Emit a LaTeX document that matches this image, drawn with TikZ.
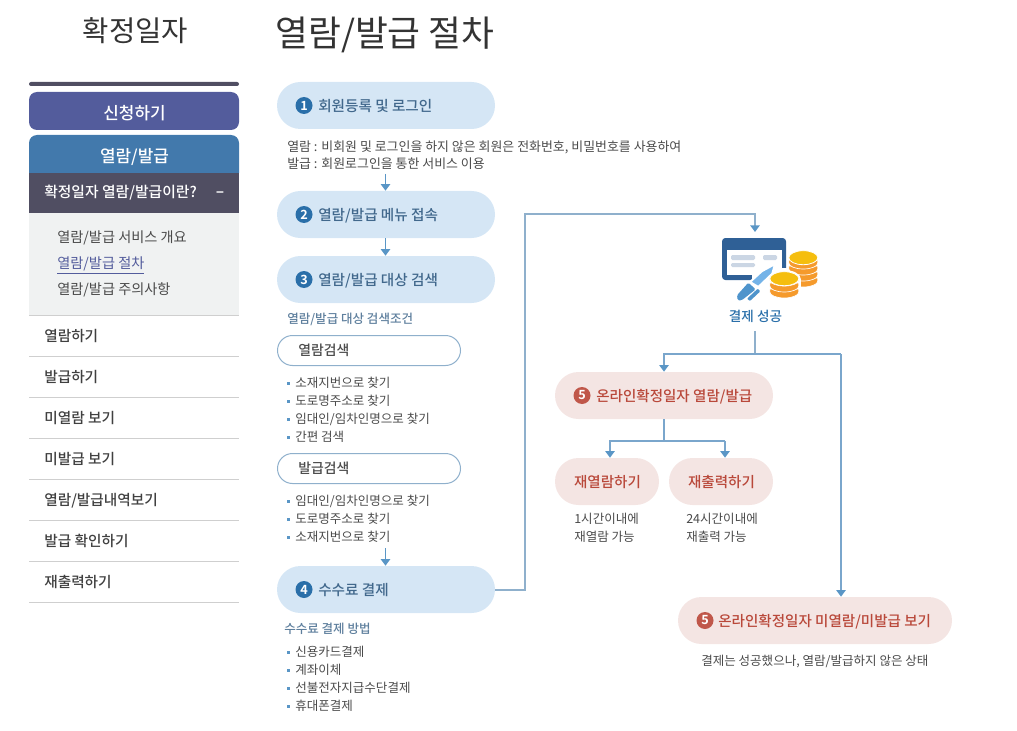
\documentclass[tikz,border=0pt]{standalone}
\usepackage{fontspec}
\setmainfont{Noto Sans CJK KR}[BoldFont={Noto Sans CJK KR Medium}]
\newfontfamily\krheavy{Noto Sans CJK KR Bold}
\usetikzlibrary{arrows.meta,shapes.geometric}
\definecolor{pillblue}{HTML}{D5E6F5}
\definecolor{pillred}{HTML}{F4E5E3}
\definecolor{numblue}{HTML}{2A6FA9}
\definecolor{numred}{HTML}{C0574A}
\definecolor{txtblue}{HTML}{41688C}
\definecolor{txtred}{HTML}{B9483A}
\definecolor{grytxt}{HTML}{4A4A4A}
\definecolor{linec}{HTML}{8FB0CC}
\definecolor{linef}{HTML}{7AA6CC}
\definecolor{tipc}{HTML}{5A96C6}
\definecolor{navy}{HTML}{504E62}
\definecolor{sbpurple}{HTML}{535C9C}
\definecolor{sbblue}{HTML}{4279AC}
\definecolor{sbgray}{HTML}{F0F2F2}
\definecolor{sbline}{HTML}{CFCFCF}
\definecolor{cardb}{HTML}{2F6096}
\definecolor{barg}{HTML}{CBD6E4}
\definecolor{penl}{HTML}{74B3E8}
\definecolor{pend}{HTML}{4E94CC}
\definecolor{coiny}{HTML}{F5BE0E}
\definecolor{coino}{HTML}{F59A2C}
\tikzset{
 x=0.75pt,y=-0.75pt,
 pillb/.style={fill=pillblue,rounded corners=17.6pt,minimum width=163.5pt,minimum height=35.25pt,inner sep=0pt},
 pillr/.style={fill=pillred,rounded corners=17.6pt,minimum height=35.25pt,inner sep=0pt},
 pillo/.style={draw=linec,fill=white,line width=0.75pt,rounded corners=11.25pt,minimum width=137.25pt,minimum height=22.5pt,inner sep=0pt},
 numb/.style={circle,fill=numblue,text=white,inner sep=0pt,minimum size=12.75pt,font=\krheavy\fontsize{9.5}{9.5}\selectfont},
 numr/.style={circle,fill=numred,text=white,inner sep=0pt,minimum size=12.75pt,font=\krheavy\fontsize{9.5}{9.5}\selectfont},
 lab/.style={anchor=base west,inner sep=0pt,font=\fontsize{10.95}{12}\selectfont\bfseries,text=txtblue},
 labr/.style={anchor=base west,inner sep=0pt,font=\fontsize{10.9}{12}\selectfont\bfseries,text=txtred},
 body/.style={anchor=base west,inner sep=0pt,font=\fontsize{9.4}{12}\selectfont,text=grytxt},
 bodyw/.style={anchor=base west,inner sep=0pt,font=\fontsize{9.7}{12}\selectfont,text=grytxt},
 sub/.style={anchor=base west,inner sep=0pt,font=\fontsize{9.4}{12}\selectfont\bfseries,text=txtblue!85},
 side/.style={anchor=base west,inner sep=0pt,font=\fontsize{11}{12}\selectfont\bfseries,text=black!75},
 sideb/.style={anchor=base west,inner sep=0pt,font=\fontsize{10.65}{12}\selectfont,text=grytxt},
 wht/.style={anchor=base,inner sep=0pt,font=\fontsize{12.7}{12}\selectfont\bfseries,text=white},
 oltxt/.style={anchor=base west,inner sep=0pt,font=\fontsize{10.4}{12}\selectfont\bfseries,text=black!70},
 blt/.style={fill=tipc,minimum size=2.25pt,inner sep=0pt},
 conn/.style={draw=linec,line width=1.2pt},
 connf/.style={draw=linef,line width=1.2pt},
 arrtip/.style={-{Triangle[color=tipc,length=5pt,width=7pt]}},
 arr/.style={conn,arrtip},
 arrf/.style={connf,arrtip},
 arrs/.style={draw=tipc,line width=1.2pt,arrtip},
 band/.style={fill=coino,draw=white,line width=0.5pt},
 cointop/.style={fill=coiny,draw=white,line width=0.6pt},
}
\newcommand{\bitem}[3]{\node[blt] (#1b) at (288,#3-4) {}; \node[body] (#1) at (295,#3) {#2};}
\begin{document}
\begin{tikzpicture}
\useasboundingbox (0,0) rectangle (1017,731);
% titles
\node[anchor=base,inner sep=0pt,font=\fontsize{21.5}{24}\selectfont,text=black!80] (t1) at (135.5,41.5) {확정일자};
\node[anchor=base west,inner sep=0pt,font=\fontsize{26.8}{30}\selectfont,text=black!80] (t2) at (275,46.5) {열람/발급 절차};
% sidebar
\fill[navy,rounded corners=1.5pt] (29,82) rectangle (239,86);
\fill[sbpurple,rounded corners=6pt] (29,92) rectangle (239,130);
\fill[sbblue,rounded corners=6pt] (29,173) [sharp corners] -- (29,160) [rounded corners=6pt] -- (29,135) -- (239,135) -- (239,160) [sharp corners] -- (239,173) -- cycle;
\fill[navy] (29,173) rectangle (239,213);
\fill[sbgray] (29,213) rectangle (239,315);
\foreach \yy in {315,356,397,438,479,520,561,602} \draw[sbline,line width=0.75pt] (29,\yy) -- (239,\yy);
\node[wht] (s1) at (134.5,120) {신청하기};
\node[wht] (s2) at (134.5,163) {열람/발급};
\node[anchor=base west,inner sep=0pt,font=\fontsize{11.1}{12}\selectfont\bfseries,text=white] (s3) at (44,197) {확정일자 열람/발급이란?};
\node[anchor=base,inner sep=0pt,font=\krheavy\fontsize{10}{12}\selectfont,text=white] (s3m) at (220,197) {−};
\node[sideb] (s4) at (57,243) {열람/발급 서비스 개요};
\node[sideb,text=sbpurple] (s5) at (57,268.5) {\underline{열람/발급 절차}};
\node[sideb] (s6) at (57,294) {열람/발급 주의사항};
\node[side] (m1) at (44,341.5) {열람하기};
\node[side] (m2) at (44,382.5) {발급하기};
\node[side] (m3) at (44,423.5) {미열람 보기};
\node[side] (m4) at (44,464.5) {미발급 보기};
\node[side] (m5) at (44,505.5) {열람/발급내역보기};
\node[side] (m6) at (44,546.5) {발급 확인하기};
\node[side] (m7) at (44,587.5) {재출력하기};
% left pills
\node[pillb] (p1) at (386,105.5) {};
\node[pillb] (p2) at (386,214.5) {};
\node[pillb] (p3) at (386,279.5) {};
\node[pillb] (p4) at (386,589.5) {};
\node[numb] (n1) at (304,105.5) {1};
\node[numb] (n2) at (304,214.5) {2};
\node[numb] (n3) at (304,279.5) {3};
\node[numb] (n4) at (304,589.5) {4};
\node[lab] (l1) at (318,111.2) {회원등록 및 로그인};
\node[lab] (l2) at (318,220.2) {열람/발급 메뉴 접속};
\node[lab] (l3) at (318,285.2) {열람/발급 대상 검색};
\node[lab] (l4) at (318,595.2) {수수료 결제};
\node[bodyw] (d1) at (287,151.5) {열람 : 비회원 및 로그인을 하지 않은 회원은 전화번호, 비밀번호를 사용하여};
\node[bodyw] (d2) at (287,169) {발급 : 회원로그인을 통한 서비스 이용};
\node[sub] (d3) at (287,323) {열람/발급 대상 검색조건};
\node[pillo] (o1) at (369,350.5) {};
\node[pillo] (o2) at (369,468.5) {};
\node[oltxt] (o1t) at (298,355.5) {열람검색};
\node[oltxt] (o2t) at (298,473.5) {발급검색};
\bitem{a1}{소재지번으로 찾기}{387}
\bitem{a2}{도로명주소로 찾기}{405}
\bitem{a3}{임대인/임차인명으로 찾기}{423}
\bitem{a4}{간편 검색}{441}
\bitem{b1}{임대인/임차인명으로 찾기}{505}
\bitem{b2}{도로명주소로 찾기}{523}
\bitem{b3}{소재지번으로 찾기}{541}
\node[sub] (d4) at (284,633) {수수료 결제 방법};
\bitem{c1}{신용카드결제}{656}
\bitem{c2}{계좌이체}{674}
\bitem{c3}{선불전자지급수단결제}{692}
\bitem{c4}{휴대폰결제}{710}
% left arrows
\coordinate (fa1) at (385.5,174);
\coordinate (fa3) at (385.5,548);
\draw[arrs] (fa1) -- (fa1 |- p2.north);
\draw[arrs] (p2.south -| fa1) -- (p3.north -| fa1);
\draw[arrs] (fa3) -- (fa3 |- p4.north);
% right pills
\node[pillr,minimum width=163.5pt] (p5) at (664,395.5) {};
\node[pillr,minimum width=78pt] (p6) at (607,481.5) {};
\node[pillr,minimum width=78pt] (p7) at (721,481.5) {};
\node[pillr,minimum width=205.5pt] (p8) at (815,620.5) {};
\node[numr] (n5) at (582,395.5) {5};
\node[numr] (n6) at (705,620.5) {5};
\node[labr] (l5) at (596,401.2) {온라인확정일자 열람/발급};
\node[labr,anchor=base] (l6) at (607.5,487.2) {재열람하기};
\node[labr,anchor=base] (l7) at (721.5,487.2) {재출력하기};
\node[labr] (l8) at (718,626.2) {온라인확정일자 미열람/미발급 보기};
\node[body] (e1) at (574,523) {1시간이내에};
\node[body] (e2) at (574,541) {재열람 가능};
\node[body] (e3) at (686,523) {24시간이내에};
\node[body] (e4) at (686,541) {재출력 가능};
\node[body] (e5) at (701,665) {결제는 성공했으나, 열람/발급하지 않은 상태};
% icon: card
\fill[cardb,rounded corners=2.5pt] (722,238) rectangle (786,280);
\fill[white] (727,250) rectangle (782,275);
\fill[barg,rounded corners=1pt] (731,255) rectangle (755,260);
\fill[barg,rounded corners=1pt] (763,255) rectangle (777,260);
\fill[barg,rounded corners=1pt] (731,263) rectangle (755,267);
% icon: white gap round the pen and coins
\fill[white] (752,275) -- (790,270) -- (790,285) -- (770,300) -- (752,300) -- cycle;
\fill[white] (782,268) rectangle (790,282);
% icon: pen
\draw[white,line width=1.5pt,fill=penl,line join=round] (775,264) -- (772.3,273.7) -- (758.3,287) -- (750,282) -- (761.7,271.3) -- cycle;
\fill[pend,rounded corners=1pt] (748.3,282.7) -- (755.7,289.3) -- (741.7,300.3) -- (737.7,300.3) -- (737,295.3) -- cycle;
\fill[pend,rounded corners=0.6pt] (757.7,288.7) -- (760.3,291.3) -- (750,301) -- (747,298.7) -- cycle;
% icon: right stack
\foreach \cy in {281,275,269,263} {
 \path[band] (788.8,\cy-3) -- (788.8,\cy) arc[start angle=180,end angle=0,x radius=14.5,y radius=6] -- (817.8,\cy-3) -- cycle;
}
\path[cointop] (803.3,257.7) ellipse[x radius=14.5,y radius=7];
% icon: left stack
\fill[white] (784.3,279) ellipse[x radius=16.5,y radius=9];
\fill[white] (767.8,279) rectangle (800.8,292);
\fill[white] (784.3,292) ellipse[x radius=16.5,y radius=7];
\foreach \cy in {292,286,280} {
 \path[band] (769.8,\cy-3) -- (769.8,\cy) arc[start angle=180,end angle=0,x radius=14.5,y radius=6] -- (798.8,\cy-3) -- cycle;
}
\path[cointop] (784.3,278.7) ellipse[x radius=14.5,y radius=7];
\node[anchor=base,inner sep=0pt,font=\fontsize{10.2}{12}\selectfont\bfseries,text=numblue] (ok) at (755.5,321) {결제 성공};
% connectors
\coordinate (j1) at (525,590);
\coordinate (j2) at (525,214);
\coordinate (j3) at (755,214);
\coordinate (j4) at (755,232);
\coordinate (j5) at (755,331);
\coordinate (j6) at (755,354);
\coordinate (j7) at (664,354);
\coordinate (j8) at (841,354);
\coordinate (j9) at (664,441);
\coordinate (j10) at (610,441);
\coordinate (j11) at (725,441);
\draw[arr] (p4.east |- j1) -- (j1) -- (j2) -- (j3) -- (j4);
\draw[conn] (j5) -- (j6);
\draw[arrf] (j8) -- (j7) -- (j7 |- p5.north);
\draw[arrf] (j8) -- (j8 |- p8.north);
\draw[connf] (p5.south) -- (j9);
\draw[arrf] (j11) -- (j10) -- (j10 |- p6.north);
\draw[arrf] (j11) -- (j11 |- p7.north);
\end{tikzpicture}
\end{document}
